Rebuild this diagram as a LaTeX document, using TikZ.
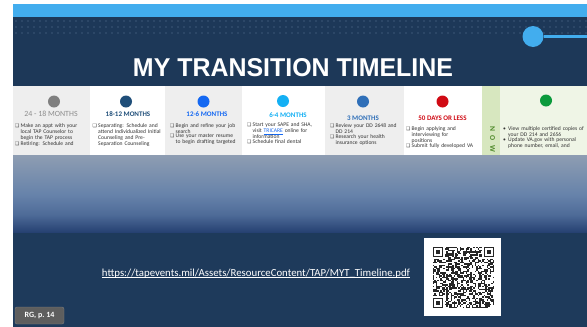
\documentclass[tikz,border=0pt]{standalone}
\usepackage{fontspec}
\usepackage{graphicx}
\setmainfont{Carlito}
\newfontfamily\titlefont{Liberation Sans}
\newfontfamily\dejavu{DejaVu Sans}
\definecolor{navy}{HTML}{1D3858}
\definecolor{navytwo}{HTML}{1E3A5B}
\definecolor{barblue}{HTML}{42ADEE}
\definecolor{dotc}{HTML}{2C4767}
\definecolor{colgray}{HTML}{EEEEEE}
\definecolor{nowgreen}{HTML}{D7E7BF}
\definecolor{nowtext}{HTML}{4F8A2A}
\definecolor{ltgreen}{HTML}{EFF5E6}
\definecolor{cone}{HTML}{7F7F7F}
\definecolor{conet}{HTML}{8C8C8C}
\definecolor{ctwo}{HTML}{1F4E79}
\definecolor{cthree}{HTML}{1468F2}
\definecolor{cfour}{HTML}{14B0F4}
\definecolor{cfive}{HTML}{2F6FB8}
\definecolor{csix}{HTML}{D00A14}
\definecolor{ceight}{HTML}{0B9A3C}
\definecolor{bodytxt}{HTML}{333333}
\definecolor{gone}{HTML}{8E9DB2}
\definecolor{gtwo}{HTML}{6682AA}
\definecolor{gthree}{HTML}{4D6A97}
\definecolor{gfour}{HTML}{243F70}
\definecolor{rggray}{HTML}{5E5E5E}
\newcommand\bodyfont{\fontsize{5.6}{6}\selectfont}
\newcommand\cbx{{\dejavu\fontsize{4.8}{5}\selectfont ❑}}
\newcommand\itm[1]{\par\bodyfont\lineskip=1pt\noindent\makebox[5.5pt][l]{\cbx}\parbox[t]{80pt}{\bodyfont #1}\par}
\newcommand\bitm[1]{\par\bodyfont\lineskip=1pt\noindent\makebox[6pt][l]{\hspace{1pt}•}\parbox[t]{80pt}{\bodyfont #1}\par}
\begin{document}
\begin{tikzpicture}[x=1pt,y=-1pt,
  hdr/.style={font=\fontsize{7}{8}\selectfont\bfseries, inner sep=0pt, anchor=base},
  body/.style={font=\bodyfont, text=bodytxt, inner sep=0pt, anchor=north west, text width=85pt},
  tdot/.style={circle, minimum size=12pt, inner sep=0pt}]
\useasboundingbox (0,0) rectangle (587,327);
\fill[white] (0,0) rectangle (587,327);
% top band
\fill[barblue] (13,4) rectangle (587,17);
\fill[navy] (13,17) rectangle (587,86);
\foreach \r in {0,1,2}{\foreach \c in {0,...,95}{\fill[dotc] ({15+6*\c},{20+6*\r}) rectangle ++(2,2);}}
\node[text=white, inner sep=0pt, anchor=south] (title) at (293,77) {\resizebox{320pt}{18pt}{\titlefont\bfseries MY TRANSITION TIMELINE}};
\node[circle, fill=barblue, minimum size=21pt, inner sep=0pt] (bigdot) at (533,36.5) {};
\coordinate (edge) at (587,36.5);
\draw[barblue, line width=2.5pt] (bigdot) -- (edge);
% strip
\fill[colgray] (13,86) rectangle (90,155);
\fill[white] (90,86) rectangle (165,155);
\fill[colgray] (165,86) rectangle (242,155);
\fill[white] (242,86) rectangle (325,155);
\fill[colgray] (325,86) rectangle (404,155);
\fill[white] (404,86) rectangle (482,155);
\fill[nowgreen] (482,86) rectangle (500,155);
\fill[ltgreen] (500,86) rectangle (587,155);
\begin{scope}
\clip (13,86) rectangle (587,155);
\node[tdot, fill=cone] (d1) at (54,101.5) {};
\node[tdot, fill=ctwo] (d2) at (126,101.5) {};
\node[tdot, fill=cthree] (d3) at (203.5,101.5) {};
\node[tdot, fill=cfour] (d4) at (283,101) {};
\node[tdot, fill=cfive] (d5) at (363,101.5) {};
\node[tdot, fill=csix] (d6) at (442.5,101.5) {};
\node[tdot, fill=ceight] (d8) at (546,100.5) {};
\node[hdr, text=conet, font=\fontsize{7.9}{8}\selectfont] (h1) at (51,116.5) {24 - 18 MONTHS};
\node[hdr, text=ctwo] (h2) at (128,116.5) {18-12 MONTHS};
\node[hdr, text=cthree] (h3) at (207,116.5) {12-6 MONTHS};
\node[hdr, text=cfour] (h4) at (288,117) {6-4 MONTHS};
\node[hdr, text=cfive] (h5) at (363,120) {3 MONTHS};
\node[hdr, text=csix] (h6) at (442.5,120) {50 DAYS OR LESS};
\node[text=nowtext, font=\fontsize{7.5}{8}\selectfont\bfseries, rotate=-90, inner sep=0pt] (now) at (492.5,139) {N\hspace{4.5pt}O\hspace{4.5pt}W};
\node[body] (b1) at (15,121) {\itm{Make an appt with your\\ local TAP Counselor to\\ begin the TAP process}\itm{Retiring: Schedule and}};
\node[body] (b2) at (92.5,121) {\itm{Separating: Schedule and\\ attend Individualized Initial\\ Counseling and Pre-\\ Separation Counseling}};
\node[body] (b3) at (170,121) {\itm{Begin and refine your job\\ search}\itm{Use your master resume\\ to begin drafting targeted}};
\node[body] (b4) at (247,120.5) {\itm{Start your SAPE and SHA,\\ visit {\color{cthree}\underline{TRICARE}} online for\\ information}\itm{Schedule final dental}};
\node[body] (b5) at (330,121.5) {\itm{Review your DD 2648 and\\ DD 214}\itm{Research your health\\ insurance options}};
\node[body] (b6) at (406,124) {\itm{Begin applying and\\ interviewing for\\ positions}\itm{Submit fully developed VA}};
\node[body] (b8) at (502,124) {\bitm{View multiple certified copies of\\ your DD 214 and 2656}\bitm{Update VA.gov with personal\\ phone number, email, and}};
\end{scope}
% gradient
\shade[top color=gone, bottom color=gtwo] (13,155) rectangle (587,195.5);
\shade[top color=gtwo, bottom color=gthree] (13,195) rectangle (587,215.5);
\shade[top color=gthree, bottom color=gfour] (13,215) rectangle (587,233);
\fill[navytwo] (13,233) rectangle (587,327);
% url
\node[text=white, inner sep=0pt, anchor=base] (url) at (256,276) {\resizebox{308pt}{!}{\fontsize{8}{9}\selectfont https://tapevents.mil/Assets/ResourceContent/TAP/MYT\_Timeline.pdf}};
\draw[white, line width=0.5pt] ([yshift=-1.3pt]url.base west) -- ([yshift=-1.3pt]url.base east);
% qr
\node[fill=white, minimum width=77pt, minimum height=78pt, inner sep=0pt] (qr) at (462.5,277) {};
\pgfmathsetseed{7}
\foreach \i in {0,...,40}{\foreach \j in {0,...,40}{%
  \pgfmathtruncatemacro\rr{rnd<0.5}%
  \ifnum\rr=1 \fill[black!85] ({432.5+1.5*\i},{246.5+1.5*\j}) rectangle ++(1.5,1.5);\fi}}
\foreach \fx/\fy in {432.5/246.5, 483.5/246.5, 432.5/297.5}{
  \fill[white] ({\fx-1.5},{\fy-1.5}) rectangle ++(13.5,13.5);
  \fill[black!85] (\fx,\fy) rectangle ++(10.5,10.5);
  \fill[white] ({\fx+1.5},{\fy+1.5}) rectangle ++(7.5,7.5);
  \fill[black!85] ({\fx+3},{\fy+3}) rectangle ++(4.5,4.5);}
% RG label
\node[fill=rggray, draw=rggray!80!white, rounded corners=2pt, minimum width=49pt, minimum height=17pt, text=white, font=\fontsize{8}{9}\selectfont\bfseries, inner sep=0pt] (rg) at (39.5,315.5) {RG, p.\ 14};
\end{tikzpicture}
\end{document}
